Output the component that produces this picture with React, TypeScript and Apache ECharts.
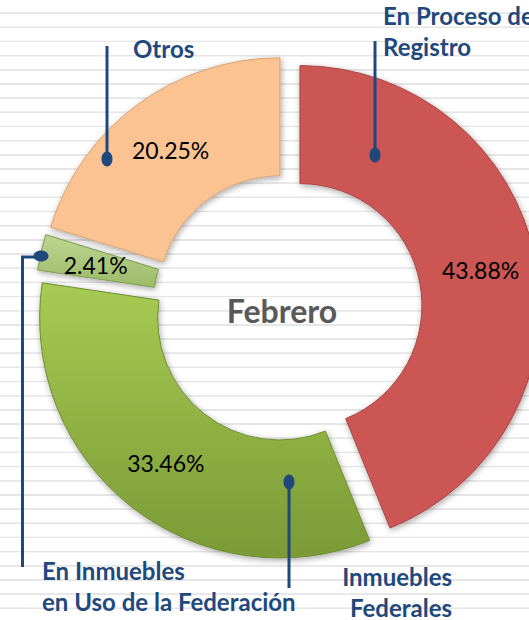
import React, { useEffect, useRef } from "react";
import * as echarts from "echarts";

const categories = [
  "En Proceso de Registro",
  "Inmuebles Federales",
  "En Inmuebles en Uso de la Federación",
  "Otros",
];
const percentValues = [43.88, 33.46, 2.41, 20.25];
const centerLabel = "Febrero";

const sliceStyles = [
  {
    color: "#CC5653",
    borderColor: "#A94442",
  },
  {
    color: new echarts.graphic.LinearGradient(0, 0, 0, 1, [
      { offset: 0, color: "#A6CA52" },
      { offset: 1, color: "#7A9A36" },
    ]),
    borderColor: "#6E8C30",
  },
  {
    color: new echarts.graphic.LinearGradient(0, 0, 0, 1, [
      { offset: 0, color: "#BCD692" },
      { offset: 1, color: "#9CBA68" },
    ]),
    borderColor: "#7F9C50",
  },
  {
    color: "#FBC392",
    borderColor: "#D9A274",
  },
];

const BLUE = "#1F497D";
const FONT = "Lato, 'Open Sans', sans-serif";

export default function App() {
  const ref = useRef<HTMLDivElement>(null);

  useEffect(() => {
    if (!ref.current) return;
    const chart = echarts.init(ref.current, undefined, { renderer: "svg" });

    const nameText = (
      text: string,
      x: number,
      y: number,
      align: string
    ) => ({
      type: "text",
      x,
      y,
      silent: true,
      z: 20,
      style: {
        text,
        fill: BLUE,
        fontFamily: FONT,
        fontWeight: "bold",
        fontSize: 24,
        lineHeight: 31,
        align,
        verticalAlign: "middle",
      },
    });

    const lineStyle = { stroke: BLUE, lineWidth: 3, fill: "none" };

    chart.setOption({
      animation: false,
      backgroundColor: "transparent",
      series: [
        {
          type: "pie",
          center: [287.5, 308],
          radius: [122, 240],
          startAngle: 90,
          clockwise: true,
          selectedMode: "multiple",
          selectedOffset: 12.7,
          avoidLabelOverlap: false,
          silent: true,
          emphasis: { disabled: true },
          itemStyle: {
            borderWidth: 1,
            shadowBlur: 6,
            shadowColor: "rgba(0,0,0,0.35)",
            shadowOffsetX: 1,
            shadowOffsetY: 2,
          },
          label: {
            show: true,
            position: "inside",
            fontFamily: FONT,
            fontSize: 23,
            color: "#000000",
            formatter: (p: any) => p.value.toFixed(2) + "%",
          },
          labelLine: { show: false },
          data: categories.map((name, i) => ({
            name,
            value: percentValues[i],
            selected: true,
            itemStyle: sliceStyles[i],
            select: { itemStyle: sliceStyles[i] },
          })),
        },
      ],
      graphic: [
        {
          type: "text",
          x: 282,
          y: 310,
          silent: true,
          style: {
            text: centerLabel,
            fill: "#595959",
            fontFamily: FONT,
            fontWeight: "bold",
            fontSize: 32,
            align: "center",
            verticalAlign: "middle",
          },
        },
        // Otros callout
        { type: "line", z: 20, shape: { x1: 107, y1: 159, x2: 107, y2: 46 }, style: lineStyle },
        { type: "ellipse", z: 20, shape: { cx: 107, cy: 159, rx: 5.5, ry: 7.5 }, style: { fill: BLUE } },
        nameText(categories[3], 133, 48, "left"),
        // En Proceso de Registro callout
        { type: "line", z: 20, shape: { x1: 375, y1: 155, x2: 375, y2: 41 }, style: lineStyle },
        { type: "ellipse", z: 20, shape: { cx: 375, cy: 155, rx: 5.5, ry: 7.5 }, style: { fill: BLUE } },
        nameText("En Proceso de\nRegistro", 383, 31, "left"),
        // En Inmuebles en Uso de la Federación callout
        {
          type: "polyline",
          z: 20,
          shape: { points: [[41, 257], [22.5, 257], [22.5, 567]] },
          style: lineStyle,
        },
        { type: "ellipse", z: 20, shape: { cx: 41, cy: 256, rx: 7.5, ry: 5.5 }, style: { fill: BLUE } },
        nameText("En Inmuebles\nen Uso de la Federación", 42, 586, "left"),
        // Inmuebles Federales callout
        { type: "line", z: 20, shape: { x1: 289, y1: 482, x2: 289, y2: 588 }, style: lineStyle },
        { type: "ellipse", z: 20, shape: { cx: 289, cy: 482, rx: 5.5, ry: 7.5 }, style: { fill: BLUE } },
        nameText("Inmuebles\nFederales", 452, 592, "right"),
      ],
    });

    return () => chart.dispose();
  }, []);

  return (
    <div
      style={{
        position: "absolute",
        left: 0,
        top: 0,
        width: 529,
        height: 620,
        overflow: "hidden",
        background:
          "repeating-linear-gradient(to bottom, #ffffff 0px, #ffffff 12px, #e6e6e6 12.6px, #e6e6e6 13.8px, #ffffff 14.17px)",
      }}
    >
      <div ref={ref} style={{ width: 529, height: 620 }} />
    </div>
  );
}
